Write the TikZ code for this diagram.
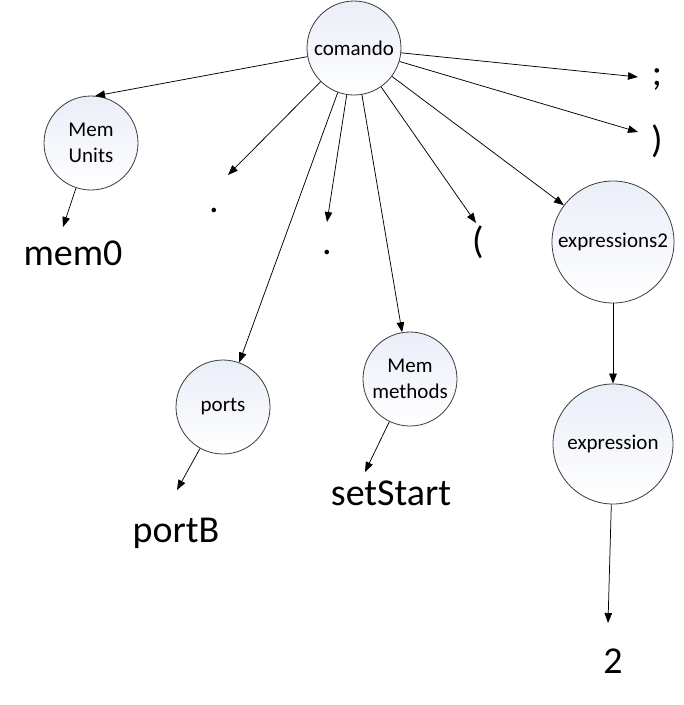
\documentclass[tikz,border=0pt]{standalone}
\usepackage{fontspec}
\setmainfont{Carlito}
\usepackage{xcolor}
\usetikzlibrary{positioning, arrows.meta}
\definecolor{nodeblue}{RGB}{234,238,248}
\definecolor{rim}{RGB}{60,60,60}
\tikzset{
  nt/.style={circle, draw=rim, line width=0.8pt, inner sep=0pt, align=center,
    shade, shading angle=45, top color=nodeblue, bottom color=white,
    font=\fontsize{21}{26}\selectfont},
  leaf/.style={anchor=base, inner sep=0pt, font=\fontsize{38}{40}\selectfont},
  edge/.style={line width=0.75pt, -{Triangle[length=10pt,width=7.5pt]}}
}

\begin{document}
\begin{tikzpicture}[x=1pt, y=-1pt]
		\useasboundingbox (0,0) rectangle (684,705);
		% Root
		\node (cmd) at (354,48) [nt, minimum size=94pt] {comando};

		% Nonterminal children
		\node (units) at (91,143) [nt, minimum size=94pt] {Mem\\Units};
		\node (ports) at (223,407) [nt, minimum size=94pt] {ports};
		\node (methods) at (410,379) [nt, minimum size=94pt] {Mem\\methods};
		\node (exprs) at (613,242) [nt, minimum size=122pt] {expressions2};
		\node (expr) at (613,444) [nt, minimum size=120pt] {expression};

		% Terminals
		\node (semi) at (657,85) [leaf] {;};
		\node (rparen) at (657,152) [leaf] {)};
		\node (dotA) at (214,212) [leaf] {.};
		\node (dotB) at (327,254) [leaf] {.};
		\node (lparen) at (478,253) [leaf] {(};
		\node (mem) at (73,265) [leaf] {mem0};
		\node (portB) at (176,542) [leaf] {portB};
		\node (start) at (391,505) [leaf] {setStart};
		\node (two) at (613,673) [leaf] {2};

		% Arrow tips
		\coordinate (tUnits) at (95,96);
		\coordinate (tSemi) at (638,77);
		\coordinate (tRparen) at (638,132);
		\coordinate (tDotA) at (228,175);
		\coordinate (tDotB) at (327,222);
		\coordinate (tLparen) at (476,223);
		\coordinate (tMem) at (63,227);
		\coordinate (tPortB) at (177,490);
		\coordinate (tStart) at (365,472);
		\coordinate (tTwo) at (608,623);

		\draw[edge] (cmd) -- (tUnits); \draw[edge] (cmd) -- (tSemi);
		\draw[edge] (cmd) -- (tRparen); \draw[edge] (cmd) -- (tDotA);
		\draw[edge] (cmd) -- (tDotB); \draw[edge] (cmd) -- (tLparen);
		\draw[edge] (cmd) -- (ports); \draw[edge] (cmd) -- (methods);
		\draw[edge] (cmd) -- (exprs);
		\draw[edge] (units) -- (tMem); \draw[edge] (ports) -- (tPortB);
		\draw[edge] (methods) -- (tStart);
		\draw[edge] (exprs) -- (expr); \draw[edge] (expr) -- (tTwo);
	\end{tikzpicture}
\end{document}
